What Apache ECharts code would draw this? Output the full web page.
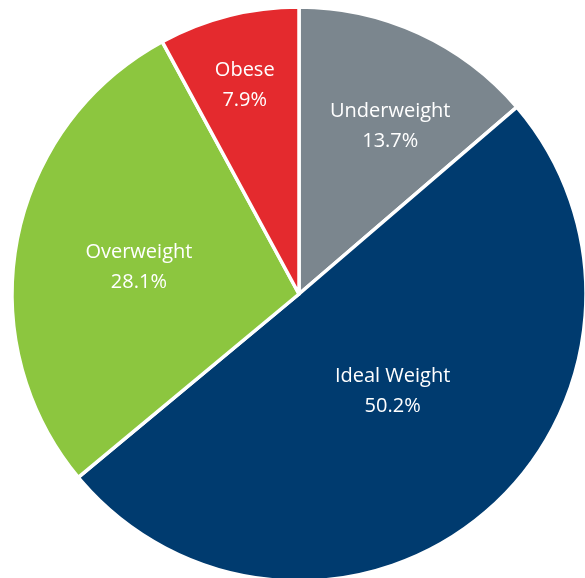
<!DOCTYPE html>
<html>
<head>
<meta charset="utf-8">
<script src="https://cdn.jsdelivr.net/npm/echarts@6/dist/echarts.min.js"></script>
<style>
  html, body { margin: 0; padding: 0; background: #ffffff; }
  #chart { width: 585px; height: 578px; }
</style>
</head>
<body>
<div id="chart"></div>
<script>
// Weight category shares (percent), drawn clockwise from 12 o'clock
const categories = ['Underweight', 'Ideal Weight', 'Overweight', 'Obese'];
const shares = [13.7, 50.2, 28.1, 7.9];
const sliceColors = ['#7b868e', '#003b6f', '#8cc63f', '#e42a2e'];
// Where each label sits: fraction of the radius and bearing (deg, clockwise from top)
const labelRadialFraction = [0.655, 0.46, 0.555, 0.74];
const labelBearingDeg = [28.6, 136, 279.4, 345.4];

const R = 287;
const total = shares.reduce((a, b) => a + b, 0);

let acc = 0;
const data = categories.map((name, i) => {
  const mid = (acc + shares[i] / 2) / total * 2 * Math.PI;
  acc += shares[i];
  // default "inside" spot is half way out along the slice middle
  const dx0 = R / 2 * Math.sin(mid), dy0 = -R / 2 * Math.cos(mid);
  const b = labelBearingDeg[i] * Math.PI / 180;
  const r = labelRadialFraction[i] * R;
  return {
    name,
    value: shares[i],
    itemStyle: { color: sliceColors[i] },
    label: { offset: [r * Math.sin(b) - dx0, -r * Math.cos(b) - dy0] }
  };
});

const chart = echarts.init(document.getElementById('chart'), null, { renderer: 'canvas' });
chart.setOption({
  animation: false,
  backgroundColor: '#ffffff',
  series: [{
    type: 'pie',
    center: [299, 294],
    radius: [0, R],
    startAngle: 90,
    clockwise: true,
    avoidLabelOverlap: false,
    itemStyle: { borderColor: '#ffffff', borderWidth: 3.5 },
    label: {
      show: true,
      position: 'inside',
      color: '#ffffff',
      fontFamily: 'Open Sans',
      fontWeight: 'normal',
      fontSize: 20,
      lineHeight: 30,
      align: 'center',
      padding: [18, 0, 0, 0],
      formatter: p => p.name + '\n' + p.value.toFixed(1) + '%'
    },
    labelLine: { show: false },
    emphasis: { disabled: true },
    data
  }]
});
</script>
</body>
</html>
